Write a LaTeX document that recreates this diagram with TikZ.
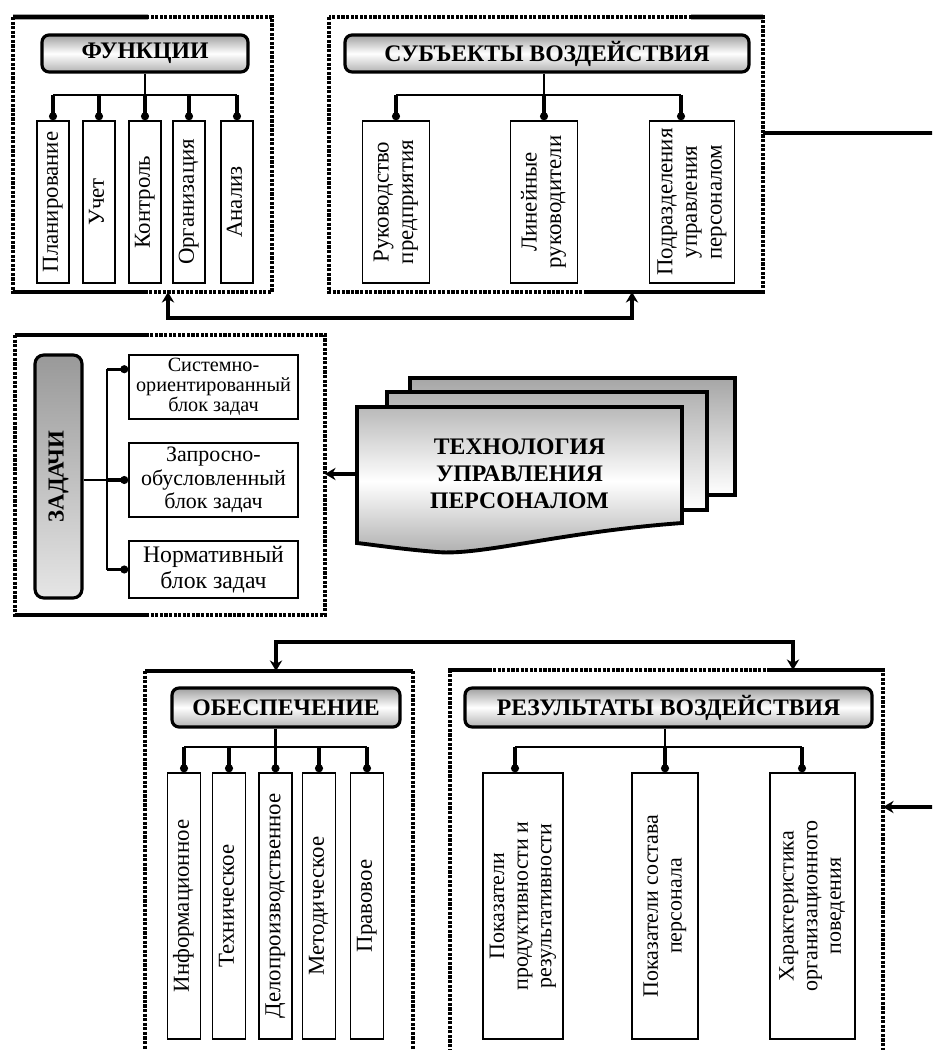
\documentclass[tikz,border=0pt]{standalone}
\usepackage{fontspec}
\setmainfont{Liberation Serif}
\usetikzlibrary{arrows.meta,fit}

\tikzset{
  >={Stealth[length=6pt,width=7pt]},
  frm/.style={inner sep=0pt, outer sep=0pt},
  dotedge/.style={line width=2pt, dash pattern=on 1.8pt off 0.8pt},
  solidedge/.style={line width=2.6pt},
  hdr/.style={draw, line width=1.8pt, rounded corners=4pt, top color=gray!75,
    bottom color=gray!60, middle color=white, inner sep=0pt,
    font=\fontsize{13.5}{15}\selectfont\bfseries},
  vbox/.style={draw, line width=0.9pt, inner sep=0pt, font=\fontsize{13}{14}\selectfont},
  tbox/.style={draw, line width=0.9pt, inner sep=0pt, align=center},
  bus/.style={line width=1.2pt},
  drop/.style={line width=1.8pt, -{Circle[length=4.5pt]}},
  link/.style={line width=2pt},
  page/.style={line width=2.2pt},
}
\newcommand{\vtext}[1]{\rotatebox{90}{\begin{tabular}{@{}c@{}}#1\end{tabular}}}

\begin{document}
\begin{tikzpicture}[x=0.02cm, y=-0.02cm]
    \useasboundingbox (0,0) rectangle (932,1050);
    \clip (0,0) rectangle (932,1050);

    % --- functions
    \node[frm, fit={(13,17) (272,292)}] (frFun) {};
    \draw[dotedge] (frFun.north west) rectangle (frFun.south east);
    \draw[solidedge] (frFun.north west) -- (148,17);
    \draw[solidedge] (frFun.south west) -- (148,292);
    \node[hdr, minimum width=4.12cm, minimum height=0.74cm] (hFun) at (145,53.5) {ФУНКЦИИ};
    \node[vbox, minimum width=0.64cm, minimum height=3.24cm] (fn1) at (53,202) {\vtext{Планирование}};
    \node[vbox, minimum width=0.64cm, minimum height=3.24cm] (fn2) at (99,202) {\vtext{Учет}};
    \node[vbox, minimum width=0.64cm, minimum height=3.24cm] (fn3) at (145,202) {\vtext{Контроль}};
    \node[vbox, minimum width=0.64cm, minimum height=3.24cm] (fn4) at (189,202) {\vtext{Организация}};
    \node[vbox, minimum width=0.64cm, minimum height=3.24cm] (fn5) at (237,202) {\vtext{Анализ}};
    \coordinate (busFun) at (0,95);
    \draw[bus] (fn3.north |- hFun.south) -- (fn3.north |- busFun);
    \draw[bus] (fn1.north |- busFun) -- (fn5.north |- busFun);
    \foreach \i in {1,...,5}
        \draw[drop] (fn\i.north |- busFun) -- (fn\i.north);

    % --- subjects
    \node[frm, fit={(329,17) (763,292)}] (frSub) {};
    \draw[dotedge] (frSub.north west) rectangle (frSub.south east);
    \draw[solidedge] (691,17) -- (frSub.north east);
    \draw[solidedge] (587,292) -- (frSub.south east);
    \node[hdr, minimum width=8.08cm, minimum height=0.74cm] (hSub) at (547,53.5) {СУБЪЕКТЫ ВОЗДЕЙСТВИЯ};
    \node[vbox, minimum width=1.34cm, minimum height=3.24cm] (sb1) at (396,202) {\vtext{Руководство\\предприятия}};
    \node[vbox, minimum width=1.34cm, minimum height=3.24cm] (sb2) at (544,202) {\vtext{Линейные\\руководители}};
    \node[vbox, minimum width=1.7cm, minimum height=3.24cm] (sb3) at (692,202) {\vtext{Подразделения\\управления\\персоналом}};
    \coordinate (busSub) at (0,95);
    \coordinate (sb3in) at ([xshift=-0.22cm]sb3.north);
    \draw[bus] (sb2.north |- hSub.south) -- (sb2.north |- busSub);
    \draw[bus] (sb1.north |- busSub) -- (sb3in |- busSub);
    \draw[drop] (sb1.north |- busSub) -- (sb1.north);
    \draw[drop] (sb2.north |- busSub) -- (sb2.north);
    \draw[drop] (sb3in |- busSub) -- (sb3in);

    % both upper frames joined below
    \draw[link, <->] ([xshift=0.51cm]frFun.south) -- ++(0,26) -| ([xshift=1.72cm]frSub.south);
    \coordinate (outR) at (940,133);
    \draw[link] ([yshift=0.43cm]frSub.east) -- (outR);

    % --- tasks
    \node[frm, fit={(15,335) (325,615)}] (frTask) {};
    \draw[dotedge] (frTask.north west) rectangle (frTask.south east);
    \draw[solidedge] (frTask.north west) -- (148,335);
    \draw[solidedge] (frTask.south west) -- (148,615);
    \node[draw, line width=1.8pt, rounded corners=5pt, top color=gray!80, bottom color=gray!20,
        minimum width=0.94cm, minimum height=4.86cm, inner sep=0pt] (zad) at (58.5,476.5)
        {\rotatebox{90}{\fontsize{13}{15}\selectfont\bfseries ЗАДАЧИ}};
    \node[tbox, minimum width=3.38cm, minimum height=1.28cm, font=\fontsize{11.5}{11.5}\selectfont]
        (t1) at (213.5,387) {Системно-\\ориентированный\\блок задач};
    \node[tbox, minimum width=3.38cm, minimum height=1.48cm, font=\fontsize{12.5}{13.5}\selectfont]
        (t2) at (213.5,480) {Запросно-\\обусловленный\\блок задач};
    \node[tbox, minimum width=3.38cm, minimum height=1.14cm, font=\fontsize{13.5}{15}\selectfont]
        (t3) at (213.5,569.5) {Нормативный\\блок задач};
    \coordinate (spine) at (107,480);
    \coordinate (t1in) at ([yshift=-0.3cm]t1.north west);
    \draw[bus] (zad.east |- t2.west) -- (spine);
    \draw[bus] (spine |- t1in) -- (spine |- t3.west);
    \draw[drop] (spine) -- (t2.west);
    \draw[drop] (spine |- t1in) -- (t1in);
    \draw[drop] (spine |- t3.west) -- (t3.west);

    % --- technology, three stacked pages
    \draw[page, top color=gray!70, bottom color=white] (410,378) rectangle (735,495);
    \draw[page, top color=gray!60, bottom color=white] (387,392) rectangle (707,510);
    \draw[page, top color=gray!55, bottom color=gray!65, middle color=white]
        (357,407) -- (682,407) -- (682,523)
        .. controls (560,532) and (480,556) .. (437,552)
        .. controls (400,549) and (375,545) .. (357,543) -- cycle;
    \node[font=\fontsize{13.5}{15.5}\selectfont\bfseries, align=center,
        minimum width=6.5cm, minimum height=2.72cm, inner sep=0pt] (tech) at (519.5,474)
        {ТЕХНОЛОГИЯ\\УПРАВЛЕНИЯ\\ПЕРСОНАЛОМ};
    \draw[link, ->] (tech.west) -- (tech.west -| frTask.east);

    % --- support
    \node[frm, fit={(145,671) (413,1070)}] (frObe) {};
    \draw[dotedge] (frObe.north west) -- (frObe.south west);
    \draw[dotedge] (frObe.north east) -- (frObe.south east);
    \draw[solidedge] (frObe.north west) -- (frObe.north east);
    \node[hdr, minimum width=4.56cm, minimum height=0.78cm] (hObe) at (286,707.5) {ОБЕСПЕЧЕНИЕ};
    \node[vbox, minimum width=0.66cm, minimum height=5.32cm] (ob1) at (184,906) {\vtext{Информационное}};
    \node[vbox, minimum width=0.66cm, minimum height=5.32cm] (ob2) at (229,906) {\vtext{Техническое}};
    \node[vbox, minimum width=0.66cm, minimum height=5.32cm] (ob3) at (275.5,906) {\vtext{Делопроизводственное}};
    \node[vbox, minimum width=0.66cm, minimum height=5.32cm] (ob4) at (319,906) {\vtext{Методическое}};
    \node[vbox, minimum width=0.66cm, minimum height=5.32cm] (ob5) at (367,906) {\vtext{Правовое}};
    \coordinate (busObe) at (0,747);
    \draw[bus] (ob3.north |- hObe.south) -- (ob3.north |- busObe);
    \draw[bus] (ob1.north |- busObe) -- (ob5.north |- busObe);
    \foreach \i in {1,...,5}
        \draw[drop] (ob\i.north |- busObe) -- (ob\i.north);

    % --- results
    \node[frm, fit={(450,670) (883,1070)}] (frRes) {};
    \draw[dotedge] (frRes.south west) -- (frRes.north west) -- (frRes.north east) -- (frRes.south east);
    \draw[solidedge] (frRes.north west) -- (491,670);
    \draw[solidedge] (770,670) -- (frRes.north east);
    \node[hdr, minimum width=8.14cm, minimum height=0.78cm] (hRes) at (668.5,707.5) {РЕЗУЛЬТАТЫ ВОЗДЕЙСТВИЯ};
    \node[vbox, minimum width=1.6cm, minimum height=5.32cm, font=\fontsize{12.5}{13.5}\selectfont]
        (rs1) at (523,906) {\vtext{Показатели\\продуктивности и\\результативности}};
    \node[vbox, minimum width=1.32cm, minimum height=5.32cm, font=\fontsize{12.5}{13.5}\selectfont]
        (rs2) at (665,906) {\vtext{Показатели состава\\персонала}};
    \node[vbox, minimum width=1.7cm, minimum height=5.32cm, font=\fontsize{12.5}{13.5}\selectfont]
        (rs3) at (812.5,906) {\vtext{Характеристика\\организационного\\поведения}};
    \coordinate (busRes) at (0,747);
    \coordinate (rs1in) at ([xshift=-0.16cm]rs1.north);
    \coordinate (rs3in) at ([xshift=-0.21cm]rs3.north);
    \draw[bus] (rs2.north |- hRes.south) -- (rs2.north |- busRes);
    \draw[bus] (rs1in |- busRes) -- (rs3in |- busRes);
    \draw[drop] (rs1in |- busRes) -- (rs1in);
    \draw[drop] (rs2.north |- busRes) -- (rs2.north);
    \draw[drop] (rs3in |- busRes) -- (rs3in);

    % lower frames fed from one line, right-hand input
    \draw[link, <->] ([xshift=-0.06cm]frObe.north) -- ++(0,-29) -| ([xshift=2.53cm]frRes.north);
    \coordinate (inR) at (940,807);
    \draw[link, ->] (inR) -- (inR -| frRes.east);
\end{tikzpicture}
\end{document}
